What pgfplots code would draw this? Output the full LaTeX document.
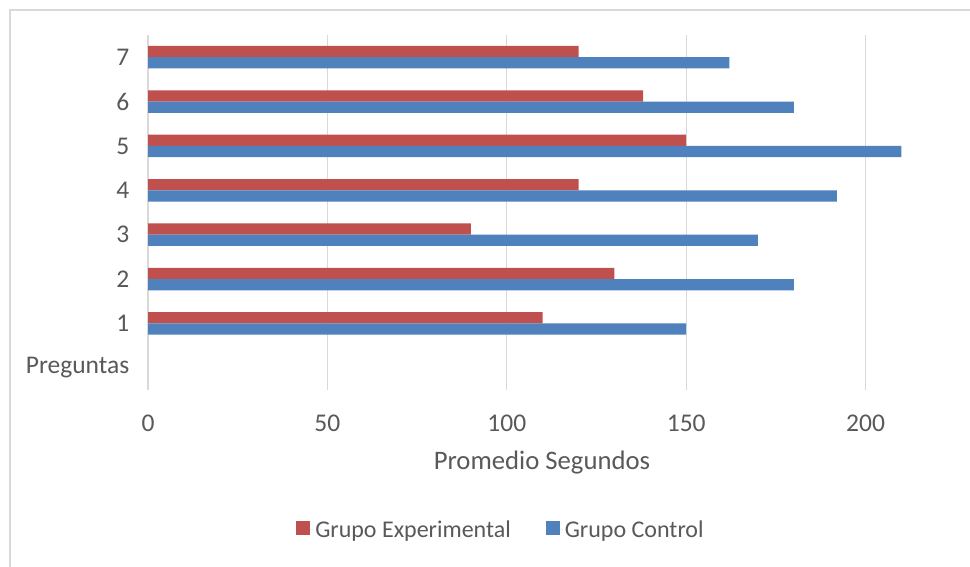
\documentclass[border=0pt]{standalone}
\usepackage{pgfplots}
\pgfplotsset{compat=1.18}
\usepackage{fontspec}
\setmainfont{Carlito}
\definecolor{cred}{HTML}{C0504D}
\definecolor{cblue}{HTML}{4F81BD}
\definecolor{ctext}{HTML}{595959}
\definecolor{cgrid}{HTML}{D9D9D9}
\begin{document}
\begin{tikzpicture}[x=1bp,y=1bp]
\useasboundingbox (0,0) rectangle (970,567);
\fill[white] (0,0) rectangle (970,567);
\clip (0,0) rectangle (970,567);
\draw[cgrid,line width=1.5bp] (10,0) -- (10,557) -- (975,557);
\begin{axis}[
  at={(148bp,177bp)}, anchor=south west,
  scale only axis, width=897bp, height=355bp,
  xmin=0, xmax=250, ymin=-0.5, ymax=7.5,
  xbar, bar width=11.3bp,
  xtick={0,50,...,200},
  ytick={0,1,...,7},
  yticklabels={Preguntas,1,2,3,4,5,6,7},
  axis line style={draw=none},
  major tick style={draw=none},
  xmajorgrids, grid style={cgrid,line width=1.2bp},
  /pgf/number format/assume math mode=true,
  ticklabel style={font=\fontsize{25.5bp}{30bp}\selectfont, text=ctext},
  xticklabel style={yshift=-21bp},
  yticklabel style={xshift=-11bp},
  xlabel={Promedio Segundos},
  xlabel style={font=\fontsize{26.7bp}{30bp}\selectfont, text=ctext, at={(axis description cs:0.4392,-0.203)}, anchor=center},
  legend columns=2,
  legend style={draw=none, fill=none, at={(axis description cs:0.3935,-0.394)}, anchor=center,
    font=\fontsize{24bp}{28bp}\selectfont, text=ctext,
    /tikz/every even column/.append style={column sep=33bp}},
  legend image code/.code={\fill[#1] (0bp,-5bp) rectangle (14bp,9bp);\path (0bp,0bp) -- (17bp,0bp);},
]
\addplot[fill=cred, draw=none, bar shift=5.65bp] coordinates {
  (110,1) (130,2) (90,3) (120,4) (150,5) (138,6) (120,7)};
\addlegendentry{Grupo Experimental}
\addplot[fill=cblue, draw=none, bar shift=-5.65bp] coordinates {
  (150,1) (180,2) (170,3) (192,4) (210,5) (180,6) (162,7)};
\addlegendentry{Grupo Control}
\end{axis}
\end{tikzpicture}
\end{document}
